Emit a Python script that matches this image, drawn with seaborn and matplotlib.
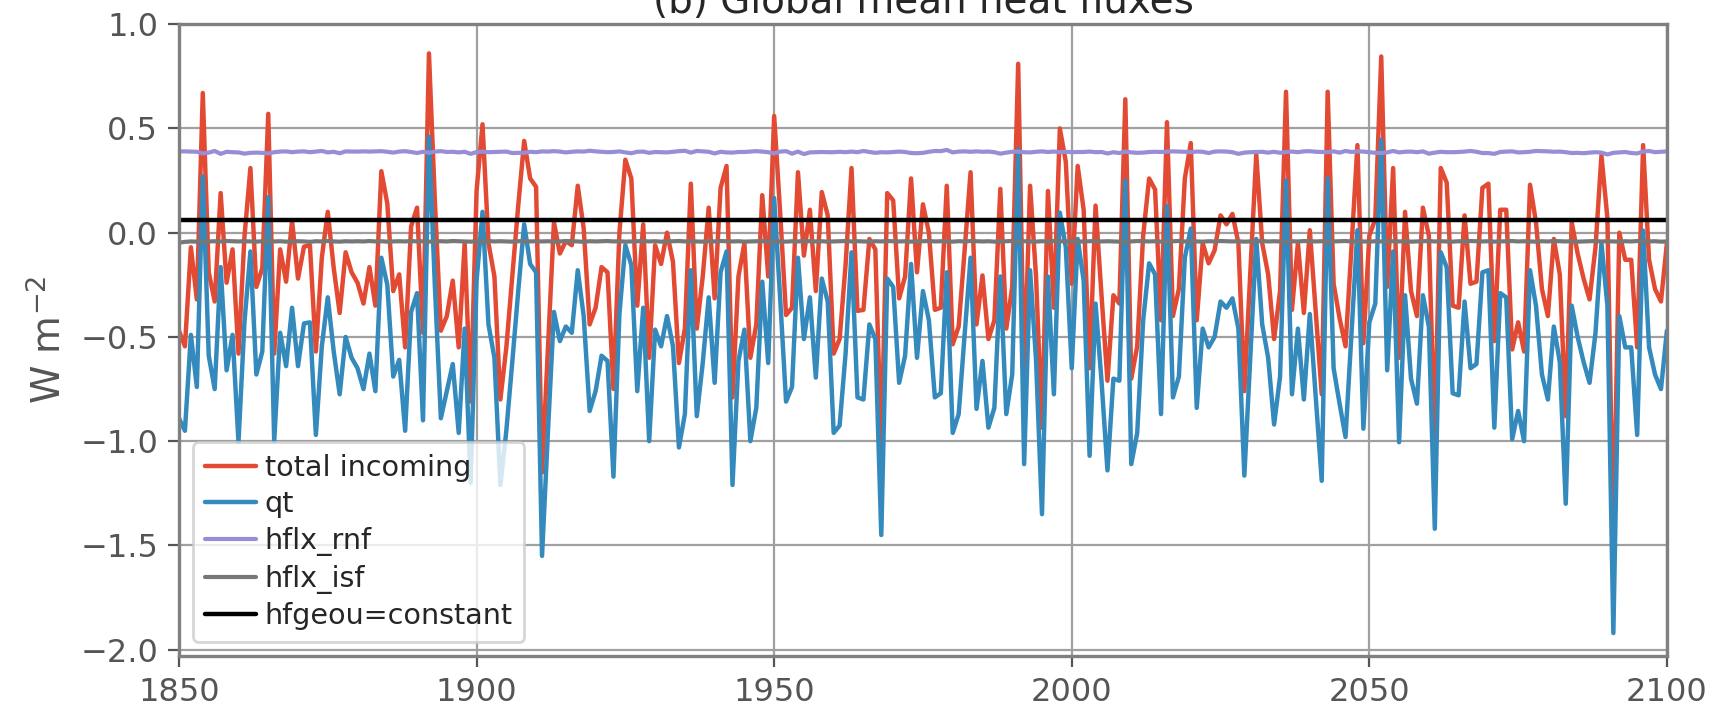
import matplotlib
matplotlib.use("Agg")
import matplotlib.pyplot as plt
import seaborn as sns
import pandas as pd

# ---- data (annual values, 1850-2100) ----
years = list(range(1850, 2101))

total_incoming = [
    -0.47, -0.545, -0.07, -0.32, 0.67, -0.19, -0.33, 0.19, -0.24, -0.08,
    -0.58, -0.02, 0.31, -0.26, -0.17, 0.57, -0.58, -0.08, -0.235, 0.057,
    -0.22, -0.067, -0.06, -0.57, -0.12, 0.10, -0.17, -0.385, -0.094, -0.19,
    -0.24, -0.34, -0.165, -0.35, 0.295, 0.14, -0.28, -0.20, -0.55, 0.03,
    0.12, -0.48, 0.86, 0.15, -0.47, -0.40, -0.23, -0.55, -0.05, -0.81,
    0.20, 0.52, -0.05, -0.21, -0.80, -0.55, -0.21, 0.13, 0.44, 0.26,
    0.22, -1.15, -0.55, 0.05, -0.10, -0.04, -0.06, 0.225, 0.02, -0.44,
    -0.36, -0.165, -0.19, -0.75, 0.0, 0.35, 0.26, -0.35, 0.04, -0.60,
    -0.06, -0.15, 0.0, -0.14, -0.625, -0.46, 0.235, -0.46, -0.21, 0.12,
    -0.315, 0.215, 0.32, -0.79, -0.21, -0.05, -0.60, -0.44, 0.18, -0.21,
    0.56, 0.10, -0.395, -0.36, 0.29, -0.11, 0.11, -0.28, 0.195, 0.083,
    -0.58, -0.51, -0.155, 0.31, -0.375, -0.37, -0.03, -0.08, -1.04, 0.19,
    0.155, -0.315, -0.21, 0.26, -0.19, 0.136, 0.0, -0.37, -0.36, 0.225,
    -0.535, -0.45, -0.085, 0.29, -0.44, -0.205, -0.51, -0.42, 0.21, -0.46,
    -0.26, 0.81, -0.70, 0.225, -0.21, -0.935, 0.20, -0.36, 0.50, 0.34,
    -0.245, 0.32, 0.11, -0.65, 0.13, -0.30, -0.71, -0.30, -0.34, 0.64,
    -0.70, -0.545, -0.014, 0.26, 0.207, -0.42, 0.53, -0.40, -0.27, 0.26,
    0.43, -0.42, -0.05, -0.147, -0.085, 0.083, 0.04, 0.09, -0.05, -0.76,
    -0.19, 0.375, -0.05, -0.20, -0.51, -0.28, 0.676, -0.37, -0.05, -0.385,
    0.012, -0.385, -0.775, 0.676, -0.245, -0.41, -0.545, -0.07, 0.42, -0.53,
    -0.014, 0.065, 0.845, -0.26, 0.31, -0.60, 0.10, -0.28, -0.40, 0.12,
    -0.014, -1.005, 0.31, 0.24, -0.35, -0.36, 0.083, -0.245, -0.235, 0.215,
    0.235, -0.52, 0.11, 0.11, -0.56, -0.43, -0.57, 0.23, 0.05, -0.27,
    -0.40, -0.03, -0.20, -0.88, 0.05, -0.10, -0.22, -0.32, -0.07, 0.37,
    0.07, -1.50, 0.0, -0.13, -0.13, -0.55, 0.42, -0.13, -0.27, -0.33,
    -0.05,
]

qt = [
    -0.89, -0.95, -0.49, -0.74, 0.27, -0.59, -0.75, -0.165, -0.66, -0.49,
    -1.005, -0.43, -0.09, -0.68, -0.57, 0.17, -1.0, -0.48, -0.64, -0.36,
    -0.64, -0.435, -0.43, -0.97, -0.545, -0.31, -0.57, -0.775, -0.50, -0.60,
    -0.65, -0.75, -0.58, -0.76, -0.12, -0.25, -0.69, -0.61, -0.95, -0.38,
    -0.29, -0.90, 0.46, -0.26, -0.89, -0.76, -0.63, -0.96, -0.46, -1.20,
    -0.23, 0.10, -0.44, -0.60, -1.21, -0.95, -0.62, -0.28, 0.04, -0.15,
    -0.19, -1.55, -0.95, -0.38, -0.52, -0.45, -0.48, -0.18, -0.40, -0.855,
    -0.76, -0.59, -0.615, -1.17, -0.39, -0.06, -0.155, -0.76, -0.36, -1.00,
    -0.465, -0.545, -0.40, -0.545, -1.03, -0.87, -0.18, -0.88, -0.625, -0.31,
    -0.72, -0.19, -0.09, -1.21, -0.615, -0.465, -1.00, -0.84, -0.235, -0.625,
    0.166, -0.31, -0.81, -0.74, -0.12, -0.51, -0.31, -0.695, -0.22, -0.33,
    -0.96, -0.925, -0.58, -0.094, -0.79, -0.80, -0.44, -0.51, -1.45, -0.22,
    -0.26, -0.72, -0.59, -0.15, -0.60, -0.28, -0.42, -0.79, -0.77, -0.19,
    -0.96, -0.87, -0.49, -0.12, -0.845, -0.615, -0.935, -0.84, -0.21, -0.87,
    -0.68, 0.40, -1.11, -0.18, -0.61, -1.35, -0.21, -0.775, 0.096, -0.07,
    -0.65, -0.03, -0.23, -1.07, -0.34, -0.71, -1.14, -0.70, -0.71, 0.25,
    -1.11, -0.96, -0.42, -0.147, -0.20, -0.87, 0.127, -0.79, -0.69, -0.12,
    0.02, -0.84, -0.46, -0.55, -0.50, -0.33, -0.36, -0.315, -0.46, -1.165,
    -0.60, -0.03, -0.44, -0.60, -0.92, -0.69, 0.25, -0.775, -0.46, -0.80,
    -0.39, -0.79, -1.19, 0.26, -0.65, -0.82, -0.98, -0.48, 0.012, -0.94,
    -0.43, -0.34, 0.446, -0.66, -0.09, -1.005, -0.30, -0.70, -0.82, -0.30,
    -0.45, -1.42, -0.094, -0.165, -0.77, -0.78, -0.33, -0.65, -0.63, -0.19,
    -0.18, -0.935, -0.29, -0.31, -0.99, -0.855, -1.00, -0.18, -0.35, -0.68,
    -0.80, -0.45, -0.62, -1.30, -0.35, -0.50, -0.62, -0.72, -0.48, -0.05,
    -0.35, -1.92, -0.40, -0.55, -0.55, -0.97, 0.01, -0.55, -0.68, -0.75,
    -0.47,
]

hflx_rnf = [
    0.390, 0.390, 0.389, 0.388, 0.380, 0.384, 0.392, 0.378, 0.388, 0.386,
    0.385, 0.379, 0.383, 0.384, 0.383, 0.380, 0.386, 0.389, 0.390, 0.386,
    0.389, 0.390, 0.386, 0.389, 0.392, 0.385, 0.388, 0.381, 0.390, 0.389,
    0.389, 0.390, 0.389, 0.390, 0.391, 0.388, 0.384, 0.389, 0.391, 0.387,
    0.382, 0.388, 0.383, 0.389, 0.391, 0.387, 0.388, 0.385, 0.388, 0.378,
    0.387, 0.389, 0.386, 0.387, 0.388, 0.389, 0.382, 0.383, 0.383, 0.388,
    0.386, 0.390, 0.389, 0.391, 0.389, 0.385, 0.388, 0.390, 0.389, 0.393,
    0.390, 0.388, 0.386, 0.387, 0.390, 0.385, 0.381, 0.388, 0.389, 0.383,
    0.387, 0.386, 0.385, 0.388, 0.391, 0.393, 0.384, 0.392, 0.390, 0.388,
    0.380, 0.388, 0.385, 0.384, 0.387, 0.387, 0.389, 0.391, 0.389, 0.386,
    0.380, 0.389, 0.391, 0.379, 0.389, 0.377, 0.385, 0.386, 0.387, 0.386,
    0.386, 0.388, 0.386, 0.389, 0.386, 0.392, 0.387, 0.383, 0.386, 0.385,
    0.387, 0.389, 0.387, 0.382, 0.381, 0.383, 0.388, 0.392, 0.391, 0.397,
    0.385, 0.389, 0.390, 0.388, 0.390, 0.388, 0.389, 0.386, 0.379, 0.384,
    0.388, 0.389, 0.386, 0.385, 0.388, 0.390, 0.387, 0.389, 0.386, 0.388,
    0.386, 0.387, 0.387, 0.389, 0.386, 0.387, 0.380, 0.386, 0.382, 0.389,
    0.385, 0.383, 0.384, 0.387, 0.388, 0.387, 0.389, 0.390, 0.389, 0.388,
    0.386, 0.389, 0.388, 0.382, 0.389, 0.390, 0.389, 0.386, 0.378, 0.384,
    0.386, 0.387, 0.388, 0.384, 0.388, 0.383, 0.387, 0.389, 0.386, 0.390,
    0.391, 0.388, 0.387, 0.386, 0.390, 0.384, 0.392, 0.387, 0.390, 0.389,
    0.386, 0.383, 0.382, 0.385, 0.392, 0.385, 0.388, 0.389, 0.386, 0.390,
    0.379, 0.384, 0.388, 0.386, 0.386, 0.387, 0.389, 0.392, 0.388, 0.382,
    0.382, 0.378, 0.387, 0.389, 0.390, 0.385, 0.386, 0.388, 0.392, 0.391,
    0.390, 0.388, 0.389, 0.386, 0.382, 0.383, 0.381, 0.384, 0.386, 0.384,
    0.375, 0.383, 0.385, 0.387, 0.382, 0.380, 0.389, 0.392, 0.386, 0.388,
    0.390,
]

hflx_isf = [
    -0.048, -0.044, -0.042, -0.043, -0.041, -0.042, -0.041, -0.042, -0.040, -0.041,
    -0.042, -0.041, -0.042, -0.043, -0.041, -0.040, -0.042, -0.041, -0.043, -0.042,
    -0.041, -0.042, -0.044, -0.041, -0.042, -0.040, -0.042, -0.043, -0.041, -0.042,
    -0.041, -0.042, -0.040, -0.042, -0.041, -0.043, -0.042, -0.041, -0.042, -0.040,
    -0.042, -0.041, -0.043, -0.042, -0.041, -0.042, -0.040, -0.041, -0.042, -0.043,
    -0.041, -0.042, -0.040, -0.042, -0.041, -0.042, -0.043, -0.041, -0.040, -0.042,
    -0.041, -0.042, -0.041, -0.043, -0.042, -0.040, -0.041, -0.042, -0.044, -0.041,
    -0.042, -0.041, -0.040, -0.042, -0.041, -0.043, -0.042, -0.041, -0.040, -0.042,
    -0.041, -0.043, -0.042, -0.041, -0.040, -0.042, -0.041, -0.042, -0.043, -0.041,
    -0.042, -0.040, -0.041, -0.042, -0.041, -0.043, -0.042, -0.041, -0.040, -0.042,
    -0.041, -0.042, -0.043, -0.041, -0.042, -0.040, -0.041, -0.042, -0.041, -0.043,
    -0.042, -0.041, -0.040, -0.042, -0.041, -0.042, -0.043, -0.041, -0.042, -0.040,
    -0.041, -0.042, -0.041, -0.043, -0.042, -0.041, -0.040, -0.042, -0.041, -0.042,
    -0.043, -0.041, -0.042, -0.040, -0.041, -0.042, -0.041, -0.043, -0.042, -0.041,
    -0.040, -0.042, -0.041, -0.042, -0.043, -0.041, -0.042, -0.040, -0.041, -0.042,
    -0.041, -0.043, -0.042, -0.041, -0.040, -0.042, -0.041, -0.042, -0.043, -0.041,
    -0.042, -0.040, -0.041, -0.042, -0.041, -0.043, -0.042, -0.041, -0.040, -0.042,
    -0.041, -0.042, -0.043, -0.041, -0.042, -0.040, -0.041, -0.042, -0.041, -0.043,
    -0.042, -0.041, -0.040, -0.042, -0.041, -0.042, -0.043, -0.041, -0.042, -0.040,
    -0.041, -0.042, -0.041, -0.043, -0.042, -0.041, -0.040, -0.042, -0.041, -0.042,
    -0.043, -0.041, -0.042, -0.040, -0.041, -0.042, -0.041, -0.043, -0.042, -0.041,
    -0.040, -0.042, -0.041, -0.042, -0.043, -0.041, -0.042, -0.040, -0.041, -0.042,
    -0.041, -0.043, -0.042, -0.041, -0.040, -0.042, -0.041, -0.042, -0.043, -0.041,
    -0.042, -0.040, -0.041, -0.042, -0.041, -0.043, -0.042, -0.041, -0.040, -0.042,
    -0.041, -0.042, -0.043, -0.041, -0.042, -0.040, -0.041, -0.042, -0.041, -0.043,
    -0.042,
]

hfgeou = 0.062   # constant geothermal flux

df = pd.DataFrame({"year": years, "total incoming": total_incoming, "qt": qt,
                   "hflx_rnf": hflx_rnf, "hflx_isf": hflx_isf})

sns.set_style("whitegrid")
plt.rcParams['font.family'] = ['DejaVu Sans']

fig = plt.figure(figsize=(8.58, 3.555), dpi=200)
ax = fig.add_axes([0.1043, 0.0774, 0.8671, 0.8886])

sns.lineplot(data=df, x="year", y="total incoming", ax=ax, color="#E24A33", lw=1.6, label="total incoming")
sns.lineplot(data=df, x="year", y="qt", ax=ax, color="#348ABD", lw=1.6, label="qt")
sns.lineplot(data=df, x="year", y="hflx_rnf", ax=ax, color="#988ED5", lw=1.5, label="hflx_rnf")
sns.lineplot(data=df, x="year", y="hflx_isf", ax=ax, color="#777777", lw=1.5, label="hflx_isf")
ax.axhline(hfgeou, color="black", lw=1.6, label="hfgeou=constant")

ax.set_xlim(1850, 2100)
ax.set_ylim(-2.03, 1.0)
ax.set_xticks([1850, 1900, 1950, 2000, 2050, 2100])
ax.set_yticks([-2.0, -1.5, -1.0, -0.5, 0.0, 0.5, 1.0])
ax.set_xlabel("")
ax.set_ylabel("W m$^{-2}$", fontsize=14, color="#555555")
ax.set_title("(b) Global mean heat fluxes", fontsize=14, pad=4)

ax.grid(True, color="#a0a0a0", lw=0.8)
ax.tick_params(axis="both", colors="#555555", labelsize=11.5, length=4, width=0.8,
               direction="out", left=True, bottom=True)
for s in ax.spines.values():
    s.set_color("#808080")
    s.set_linewidth(1.2)

ax.legend(loc="lower left", fontsize=10.3, framealpha=0.8, edgecolor="#cccccc",
          fancybox=True, labelspacing=0.3, handlelength=1.8, handletextpad=0.3)

fig.savefig("out.png", dpi=200)
